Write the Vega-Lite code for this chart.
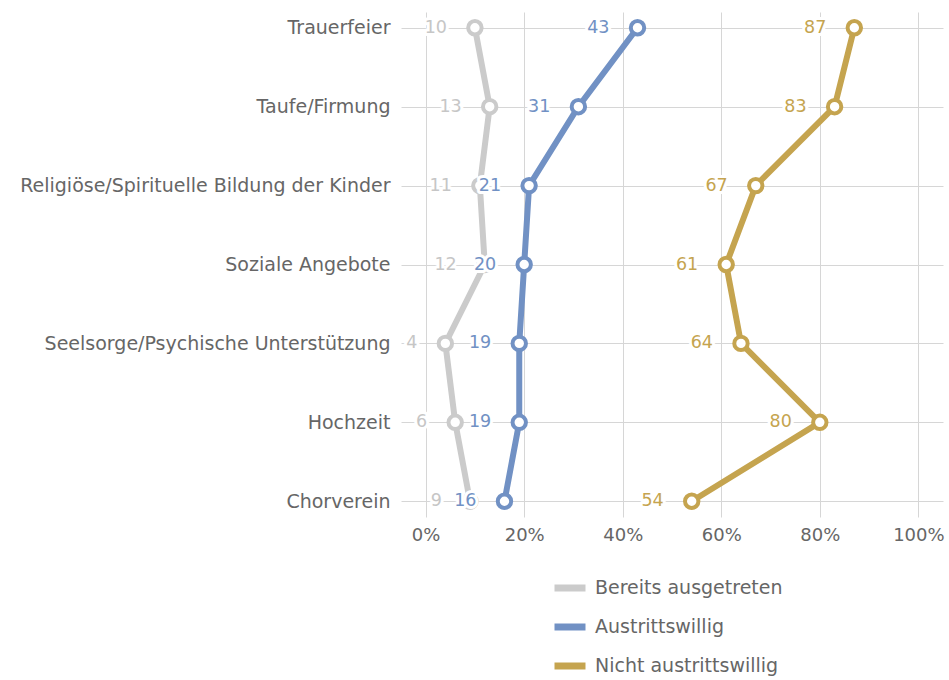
{
  "$schema": "https://vega.github.io/schema/vega-lite/v6.json",
  "width": 542,
  "height": 505,
  "autosize": {"type": "none"},
  "padding": {"left": 401, "top": 12, "right": 6, "bottom": 163},
  "config": {"view": {"stroke": null}, "font": "DejaVu Sans"},
  "data": {"values": [
    {"cat": "Trauerfeier", "idx": 1, "series": "Bereits ausgetreten", "value": 10},
    {"cat": "Taufe/Firmung", "idx": 2, "series": "Bereits ausgetreten", "value": 13},
    {"cat": "Religiöse/Spirituelle Bildung der Kinder", "idx": 3, "series": "Bereits ausgetreten", "value": 11},
    {"cat": "Soziale Angebote", "idx": 4, "series": "Bereits ausgetreten", "value": 12},
    {"cat": "Seelsorge/Psychische Unterstützung", "idx": 5, "series": "Bereits ausgetreten", "value": 4},
    {"cat": "Hochzeit", "idx": 6, "series": "Bereits ausgetreten", "value": 6},
    {"cat": "Chorverein", "idx": 7, "series": "Bereits ausgetreten", "value": 9},
    {"cat": "Trauerfeier", "idx": 1, "series": "Austrittswillig", "value": 43},
    {"cat": "Taufe/Firmung", "idx": 2, "series": "Austrittswillig", "value": 31},
    {"cat": "Religiöse/Spirituelle Bildung der Kinder", "idx": 3, "series": "Austrittswillig", "value": 21},
    {"cat": "Soziale Angebote", "idx": 4, "series": "Austrittswillig", "value": 20},
    {"cat": "Seelsorge/Psychische Unterstützung", "idx": 5, "series": "Austrittswillig", "value": 19},
    {"cat": "Hochzeit", "idx": 6, "series": "Austrittswillig", "value": 19},
    {"cat": "Chorverein", "idx": 7, "series": "Austrittswillig", "value": 16},
    {"cat": "Trauerfeier", "idx": 1, "series": "Nicht austrittswillig", "value": 87},
    {"cat": "Taufe/Firmung", "idx": 2, "series": "Nicht austrittswillig", "value": 83},
    {"cat": "Religiöse/Spirituelle Bildung der Kinder", "idx": 3, "series": "Nicht austrittswillig", "value": 67},
    {"cat": "Soziale Angebote", "idx": 4, "series": "Nicht austrittswillig", "value": 61},
    {"cat": "Seelsorge/Psychische Unterstützung", "idx": 5, "series": "Nicht austrittswillig", "value": 64},
    {"cat": "Hochzeit", "idx": 6, "series": "Nicht austrittswillig", "value": 80},
    {"cat": "Chorverein", "idx": 7, "series": "Nicht austrittswillig", "value": 54}
  ]},
  "encoding": {
    "y": {
      "field": "cat", "type": "ordinal",
      "sort": ["Trauerfeier", "Taufe/Firmung", "Religiöse/Spirituelle Bildung der Kinder", "Soziale Angebote", "Seelsorge/Psychische Unterstützung", "Hochzeit", "Chorverein"],
      "scale": {"type": "point", "padding": 0.2},
      "axis": {"title": null, "domain": false, "ticks": false, "grid": true, "gridColor": "#d6d6d6", "labelFontSize": 19, "labelColor": "#666666", "labelPadding": 11, "labelLimit": 0}
    },
    "x": {
      "field": "value", "type": "quantitative",
      "scale": {"domain": [-5, 105], "nice": false, "zero": false},
      "axis": {"title": null, "values": [0, 20, 40, 60, 80, 100], "labelExpr": "datum.value + '%'", "domain": false, "ticks": false, "grid": true, "gridColor": "#d6d6d6", "labelFontSize": 18, "labelColor": "#666666", "labelPadding": 9}
    }
  },
  "layer": [
    {
      "transform": [{"filter": "datum.series === 'Bereits ausgetreten'"}],
      "mark": {"type": "line", "strokeWidth": 6},
      "encoding": {
        "order": {"field": "idx", "type": "quantitative"},
        "color": {"field": "series", "type": "nominal",
          "scale": {"domain": ["Bereits ausgetreten", "Austrittswillig", "Nicht austrittswillig"], "range": ["#cbcbcb", "#7191c4", "#c5a44f"]},
          "legend": {"orient": "none", "legendX": 150, "legendY": 557, "title": null, "symbolType": "stroke", "symbolSize": 961, "symbolStrokeWidth": 7, "labelFontSize": 19, "labelColor": "#666666", "labelOffset": 6, "rowPadding": 6, "padding": 0, "labelLimit": 0}}
      }
    },
    {
      "transform": [{"filter": "datum.series === 'Bereits ausgetreten'"}],
      "mark": {"type": "point", "shape": "circle", "filled": true, "fill": "white", "stroke": "#cbcbcb", "strokeWidth": 4, "size": 180, "opacity": 1}
    },
    {
      "transform": [{"filter": "datum.series === 'Bereits ausgetreten'"}],
      "mark": {"type": "text", "align": "right", "baseline": "middle", "dx": -28, "fontSize": 17.5, "fill": "white", "stroke": "white", "strokeWidth": 6, "strokeJoin": "round"},
      "encoding": {"text": {"field": "value", "type": "quantitative"}}
    },
    {
      "transform": [{"filter": "datum.series === 'Bereits ausgetreten'"}],
      "mark": {"type": "text", "align": "right", "baseline": "middle", "dx": -28, "fontSize": 17.5, "fill": "#c6c6c6"},
      "encoding": {"text": {"field": "value", "type": "quantitative"}}
    },
    {
      "transform": [{"filter": "datum.series === 'Austrittswillig'"}],
      "mark": {"type": "line", "strokeWidth": 6},
      "encoding": {
        "order": {"field": "idx", "type": "quantitative"},
        "color": {"field": "series", "type": "nominal",
          "scale": {"domain": ["Bereits ausgetreten", "Austrittswillig", "Nicht austrittswillig"], "range": ["#cbcbcb", "#7191c4", "#c5a44f"]},
          "legend": {"orient": "none", "legendX": 150, "legendY": 557, "title": null, "symbolType": "stroke", "symbolSize": 961, "symbolStrokeWidth": 7, "labelFontSize": 19, "labelColor": "#666666", "labelOffset": 6, "rowPadding": 6, "padding": 0, "labelLimit": 0}}
      }
    },
    {
      "transform": [{"filter": "datum.series === 'Austrittswillig'"}],
      "mark": {"type": "point", "shape": "circle", "filled": true, "fill": "white", "stroke": "#7191c4", "strokeWidth": 4, "size": 180, "opacity": 1}
    },
    {
      "transform": [{"filter": "datum.series === 'Austrittswillig'"}],
      "mark": {"type": "text", "align": "right", "baseline": "middle", "dx": -28, "fontSize": 17.5, "fill": "white", "stroke": "white", "strokeWidth": 6, "strokeJoin": "round"},
      "encoding": {"text": {"field": "value", "type": "quantitative"}}
    },
    {
      "transform": [{"filter": "datum.series === 'Austrittswillig'"}],
      "mark": {"type": "text", "align": "right", "baseline": "middle", "dx": -28, "fontSize": 17.5, "fill": "#7191c4"},
      "encoding": {"text": {"field": "value", "type": "quantitative"}}
    },
    {
      "transform": [{"filter": "datum.series === 'Nicht austrittswillig'"}],
      "mark": {"type": "line", "strokeWidth": 6},
      "encoding": {
        "order": {"field": "idx", "type": "quantitative"},
        "color": {"field": "series", "type": "nominal",
          "scale": {"domain": ["Bereits ausgetreten", "Austrittswillig", "Nicht austrittswillig"], "range": ["#cbcbcb", "#7191c4", "#c5a44f"]},
          "legend": {"orient": "none", "legendX": 150, "legendY": 557, "title": null, "symbolType": "stroke", "symbolSize": 961, "symbolStrokeWidth": 7, "labelFontSize": 19, "labelColor": "#666666", "labelOffset": 6, "rowPadding": 6, "padding": 0, "labelLimit": 0}}
      }
    },
    {
      "transform": [{"filter": "datum.series === 'Nicht austrittswillig'"}],
      "mark": {"type": "point", "shape": "circle", "filled": true, "fill": "white", "stroke": "#c5a44f", "strokeWidth": 4, "size": 180, "opacity": 1}
    },
    {
      "transform": [{"filter": "datum.series === 'Nicht austrittswillig'"}],
      "mark": {"type": "text", "align": "right", "baseline": "middle", "dx": -28, "fontSize": 17.5, "fill": "white", "stroke": "white", "strokeWidth": 6, "strokeJoin": "round"},
      "encoding": {"text": {"field": "value", "type": "quantitative"}}
    },
    {
      "transform": [{"filter": "datum.series === 'Nicht austrittswillig'"}],
      "mark": {"type": "text", "align": "right", "baseline": "middle", "dx": -28, "fontSize": 17.5, "fill": "#c5a44f"},
      "encoding": {"text": {"field": "value", "type": "quantitative"}}
    }
  ]
}
